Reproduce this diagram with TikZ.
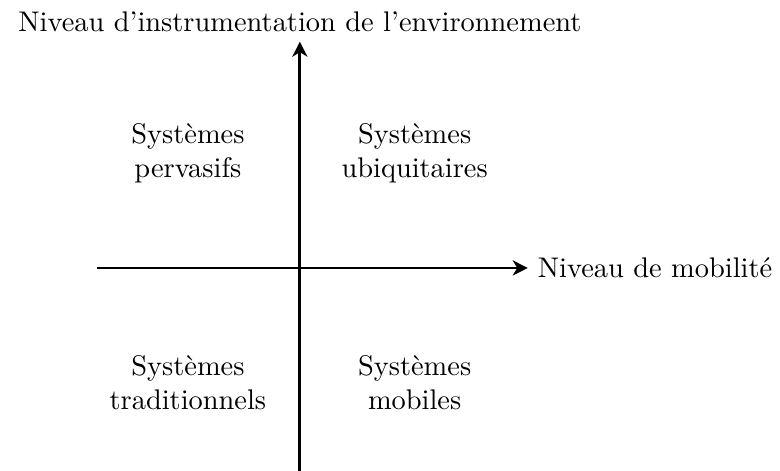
\documentclass[tikz,border=0pt]{standalone}
\usetikzlibrary{positioning,arrows.meta}
\tikzset{>={Stealth[length=5.3pt,width=5.3pt,inset=1.6pt]}}
\tikzset{axe/.style={->,line width=1pt},
         quadrant/.style={align=center}}
\begin{document}
\begin{tikzpicture}
\useasboundingbox (-3.71,-2.51) rectangle (5.94,3.315);
\coordinate (gauche) at (-2.51,0);
\coordinate (droite) at (2.82,0);
\coordinate (bas) at (0,-2.51);
\coordinate (haut) at (0,2.80);
\draw [axe] (gauche) -- (droite);
\draw [axe] (bas) -- (haut);
\node [right] (mob) at (droite) {Niveau de mobilité};
\node [above] (instr) at (haut) {Niveau d’instrumentation de l’environnement};
\node [quadrant] (perv) at (-1.385,1.42) {Systèmes\\pervasifs};
\node [quadrant] (ubiq) at (1.42,1.42) {Systèmes\\ubiquitaires};
\node [quadrant] (trad) at (-1.385,-1.42) {Systèmes\\traditionnels};
\node [quadrant] (mobi) at (1.42,-1.42) {Systèmes\\mobiles};
\end{tikzpicture}
\end{document}
